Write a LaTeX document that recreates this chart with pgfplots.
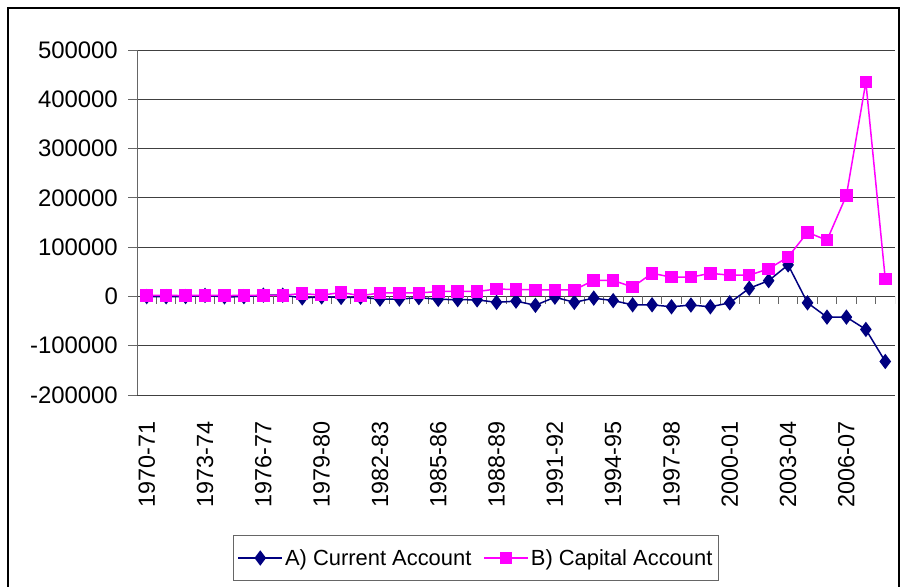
\documentclass[border=0pt]{standalone}
\usepackage{pgfplots}
\pgfplotsset{compat=1.18}
\usepackage{fontspec}
\setmainfont{Liberation Sans}
\definecolor{navyc}{RGB}{0,0,128}
\definecolor{magc}{RGB}{255,0,255}
\begin{document}
\begin{tikzpicture}
\useasboundingbox (0,0) rectangle (902bp,587bp);
\fill[white] (0,0) rectangle (902bp,587bp);
\draw[line width=1.5bp] (8bp,-10bp) rectangle (899bp,579bp);
\begin{axis}[
 at={(137bp,192bp)}, anchor=south west, width=758bp, height=345bp, scale only axis,
 xmin=-0.5, xmax=38.5, ymin=-200000, ymax=500000,
 ytick={-200000,-100000,0,100000,200000,300000,400000,500000},
 yticklabels={-200000,-100000,0,100000,200000,300000,400000,500000},
 scaled y ticks=false,
 xtick={0,3,6,9,12,15,18,21,24,27,30,33,36},
 xticklabels={1970-71,1973-74,1976-77,1979-80,1982-83,1985-86,1988-89,1991-92,1994-95,1997-98,2000-01,2003-04,2006-07},
 x tick label style={rotate=90, anchor=east, font=\fontsize{23.5}{25}\selectfont, inner sep=0pt},
 xticklabel shift=17bp,
 y tick label style={font=\fontsize{24}{26}\selectfont, inner sep=0pt},
 yticklabel shift=10bp,
 axis x line*=bottom, axis y line*=left,
 x axis line style={draw=none},
 y axis line style={draw=gray!80!black, line width=0.8bp},
 ymajorgrids, grid style={black!75, line width=0.8bp},
 tick align=outside,
 xtick style={draw=none},
 ytick style={draw=gray!80!black, line width=0.8bp},
 major tick length=9bp,
 legend columns=2,
 legend style={at={(0.4472,-0.4725)}, anchor=center, draw=black!60, line width=0.8bp,
   font=\fontsize{22}{26}\selectfont, inner xsep=4bp, inner ysep=12bp,
   /tikz/every even column/.append style={column sep=10bp}},
 legend image code/.code={\draw[mark repeat=2,mark phase=2] plot coordinates {(0bp,0bp) (22bp,0bp) (44bp,0bp)};},
]
\pgfplotsinvokeforeach{0,...,39}{
  \draw[gray!80!black, line width=0.8bp] (axis cs:#1-0.5,0) -- ([yshift=-8bp]axis cs:#1-0.5,0);
}
\addplot[navyc, line width=1.5bp, mark=diamond*, mark size=6.5bp, mark options={solid, fill=navyc}] coordinates {
(0,-400) (1,-600) (2,-300) (3,2000) (4,-800) (5,-500) (6,2500) (7,2500) (8,-3000) (9,-1000)
(10,-2000) (11,-1500) (12,-5500) (13,-5500) (14,-2500) (15,-6000) (16,-6500) (17,-7000) (18,-12000) (19,-9500)
(20,-18000) (21,-1500) (22,-12000) (23,-3500) (24,-8500) (25,-17000) (26,-17000) (27,-21000) (28,-17500) (29,-21000)
(30,-13000) (31,16500) (32,32000) (33,64000) (34,-13000) (35,-42000) (36,-42000) (37,-67000) (38,-132000)
};
\addlegendentry{A) Current Account}
\addplot[magc, line width=1.5bp, mark=square*, mark size=5.5bp, mark options={solid, fill=magc}] coordinates {
(0,2000) (1,2000) (2,1800) (3,2200) (4,1800) (5,2000) (6,2200) (7,2200) (8,6000) (9,2500)
(10,8000) (11,1500) (12,7000) (13,7000) (14,7000) (15,10000) (16,10000) (17,10000) (18,15000) (19,14000)
(20,13500) (21,13500) (22,13500) (23,32500) (24,32500) (25,19000) (26,47000) (27,39000) (28,39000) (29,47000)
(30,43000) (31,43000) (32,56000) (33,80000) (34,130000) (35,114000) (36,205000) (37,435000) (38,35000)
};
\addlegendentry{B) Capital Account}
\end{axis}
\end{tikzpicture}
\end{document}
